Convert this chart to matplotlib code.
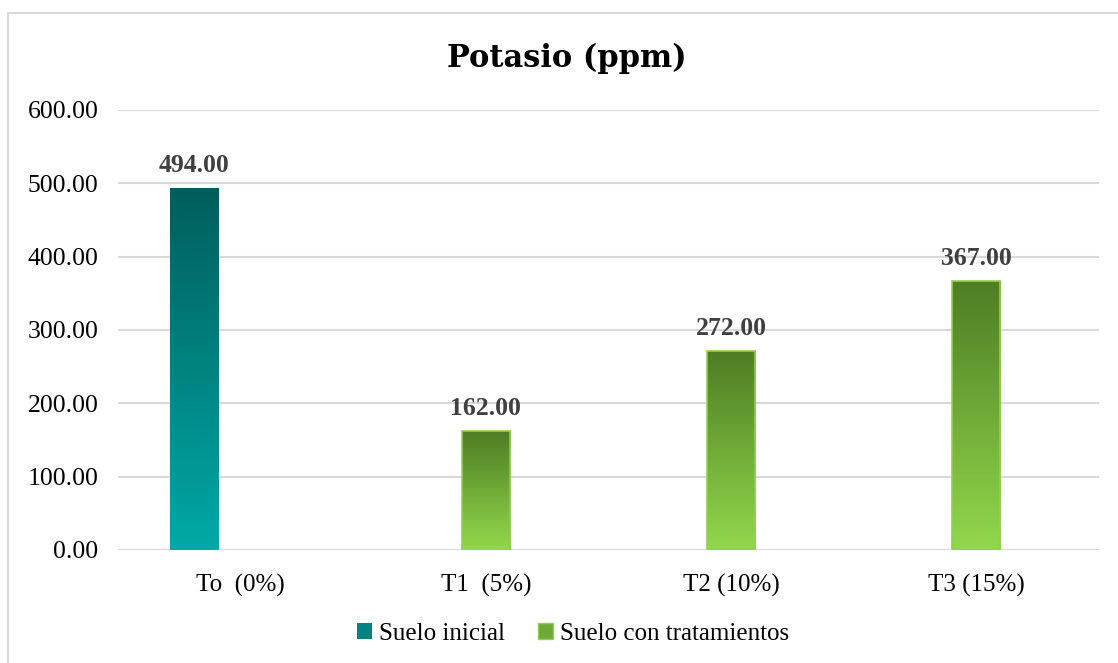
import numpy as np
import matplotlib
matplotlib.use("Agg")
import matplotlib.pyplot as plt
from matplotlib.patches import Rectangle, Patch
from matplotlib.colors import LinearSegmentedColormap

# Data
categories = ["To  (0%)", "T1  (5%)", "T2 (10%)", "T3 (15%)"]
inicial = [494.00, None, None, None]
tratamientos = [None, 162.00, 272.00, 367.00]
yticks = [0, 100, 200, 300, 400, 500, 600]

teal_cmap = LinearSegmentedColormap.from_list("teal", ["#00A9A6", "#005E5C"])
green_cmap = LinearSegmentedColormap.from_list("green", ["#92D84C", "#4E7D24"])

fig = plt.figure(figsize=(11.18, 6.63), dpi=100)
ax = fig.add_axes([118/1118, 113/663, 981/1118, 440/663])

serif = "Liberation Serif"
bw = 0.196
grad = np.linspace(0, 1, 256).reshape(-1, 1)


def gradient_bar(x, h, cmap, edge):
    bar = ax.bar(x, h, width=bw, facecolor="none", edgecolor=edge,
                 linewidth=1.2, zorder=4)[0]
    im = ax.imshow(grad, cmap=cmap, aspect="auto", origin="lower",
                   extent=(x - bw/2, x + bw/2, 0, h), zorder=3)
    im.set_clip_path(bar)
    ax.text(x, h + 15, f"{h:.2f}", ha="center", va="bottom", fontsize=18.5,
            fontweight="bold", color="#404040", family=serif, zorder=5)


for i, v in enumerate(inicial):
    if v is not None:
        gradient_bar(i - 0.19, v, teal_cmap, "none")
for i, v in enumerate(tratamientos):
    if v is not None:
        gradient_bar(i, v, green_cmap, "#92D050")

ax.set_xlim(-0.5, 3.5)
ax.set_ylim(0, 600)
ax.set_yticks(yticks)
ax.set_yticklabels([f"{t:.2f}" for t in yticks], family=serif, fontsize=18.5)
ax.set_xticks(range(len(categories)))
ax.set_xticklabels(categories, family=serif, fontsize=18)
ax.tick_params(length=0)
ax.tick_params(axis="x", pad=17)
ax.tick_params(axis="y", pad=14)
ax.grid(axis="y", color="#D9D9D9", linewidth=1.5, zorder=0)
ax.set_axisbelow(True)
for s in ax.spines.values():
    s.set_visible(False)

fig.text(567/1118, 1 - 58/663, "Potasio (ppm)", ha="center", va="center",
         fontsize=22, fontweight="bold", family="DejaVu Serif")

handles = [Patch(facecolor="#008482", edgecolor="none", label="Suelo inicial"),
           Patch(facecolor="#6EA83A", edgecolor="#92D050", label="Suelo con tratamientos")]
fig.legend(handles=handles, loc="center", bbox_to_anchor=(573/1118, 1 - 634/663),
           ncol=2, frameon=False, prop={"family": serif, "size": 18},
           handlelength=0.6, handleheight=0.6, handletextpad=0.3, columnspacing=1.3)

fig.add_artist(Rectangle((8/1118, -0.1), 1.2, 1 - 12.5/663 + 0.1,
                         transform=fig.transFigure, fill=False,
                         edgecolor="#D9D9D9", linewidth=1.5))

fig.savefig("out.png", dpi=100)
